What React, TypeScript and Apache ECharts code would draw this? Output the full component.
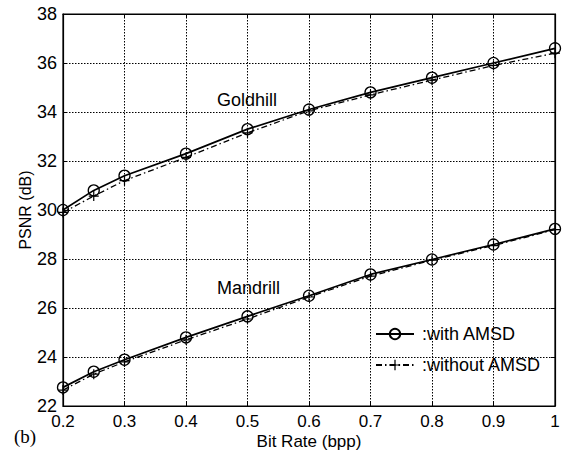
import React, { useEffect, useRef } from "react";
import * as echarts from "echarts";

const bitRates = [0.2, 0.25, 0.3, 0.4, 0.5, 0.6, 0.7, 0.8, 0.9, 1.0];
const goldhillWith = [30.0, 30.8, 31.4, 32.3, 33.3, 34.1, 34.8, 35.4, 36.0, 36.6];
const goldhillWithout = [29.9, 30.57, 31.2, 32.15, 33.15, 34.05, 34.7, 35.3, 35.9, 36.4];
const mandrillWith = [22.76, 23.4, 23.89, 24.8, 25.66, 26.5, 27.37, 27.98, 28.59, 29.23];
const mandrillWithout = [22.65, 23.3, 23.8, 24.7, 25.55, 26.45, 27.3, 27.95, 28.55, 29.2];
const seriesNames = ["with AMSD", "without AMSD"];
const xTitle = "Bit Rate (bpp)";
const yTitle = "PSNR (dB)";

const FONT = "'Liberation Sans', Arial, sans-serif";
const PLUS = "path://M4.4,0 H5.6 V4.4 H10 V5.6 H5.6 V10 H4.4 V5.6 H0 V4.4 H4.4 Z";

const pairs = (ys: number[]) => bitRates.map((x, i) => [x, ys[i]]);

export default function App() {
  const ref = useRef<HTMLDivElement>(null);
  useEffect(() => {
    if (!ref.current) return;
    const chart = echarts.init(ref.current, null, { renderer: "svg" });
    const withSeries = (data: number[][]) => ({
      type: "line",
      name: seriesNames[0],
      data,
      symbol: "circle",
      symbolSize: 11,
      showSymbol: true,
      lineStyle: { color: "#000", width: 1.7, type: "solid" },
      itemStyle: { color: "rgba(0,0,0,0)", borderColor: "#000", borderWidth: 1.3 },
      z: 3,
    });
    const withoutSeries = (data: number[][]) => ({
      type: "line",
      name: seriesNames[1],
      data,
      symbol: PLUS,
      symbolSize: 10,
      lineStyle: { color: "#000", width: 1.3, type: [6, 3, 1.5, 3] },
      itemStyle: { color: "#000", borderWidth: 0 },
      z: 2,
    });
    chart.setOption({
      animation: false,
      backgroundColor: "#fff",
      grid: { left: 63, right: 9, top: 14, bottom: 51, show: true, borderColor: "#000", borderWidth: 1.2, backgroundColor: "transparent" },
      legend: {
        orient: "vertical",
        left: 370,
        top: 319,
        itemWidth: 38,
        itemHeight: 13,
        itemGap: 11,
        data: seriesNames,
        formatter: (n: string) => ":" + n,
        textStyle: { color: "#000", fontSize: 18, fontFamily: FONT, padding: [0, 0, 0, 3], lineHeight: 20 },
      },
      xAxis: [
        {
          type: "value",
          min: 0.2,
          max: 1,
          interval: 0.1,
          name: xTitle,
          nameLocation: "middle",
          nameGap: 27,
          nameMoveOverlap: false,
          nameTextStyle: { color: "#000", fontSize: 17, fontFamily: FONT, verticalAlign: "top" },
          axisLine: { show: true, lineStyle: { color: "#000", width: 1.2 } },
          axisTick: { show: true, inside: true, length: 4, lineStyle: { color: "#000" } },
          axisLabel: { color: "#000", fontSize: 17, fontFamily: FONT, margin: 7, formatter: (v: number) => String(Math.round(v * 10) / 10) },
          splitLine: { show: true, lineStyle: { color: "#000", width: 1, type: [1.5, 1.5] } },
        },
        {
          type: "value",
          position: "top",
          min: 0.2,
          max: 1,
          interval: 0.1,
          axisLine: { show: true, lineStyle: { color: "#000", width: 1.2 } },
          axisTick: { show: true, inside: true, length: 4, lineStyle: { color: "#000" } },
          axisLabel: { show: false },
          splitLine: { show: false },
        },
      ],
      yAxis: [
        {
          type: "value",
          min: 22,
          max: 38,
          interval: 2,
          name: yTitle,
          nameLocation: "middle",
          nameGap: 30,
          nameMoveOverlap: false,
          nameTextStyle: { color: "#000", fontSize: 16, fontFamily: FONT, verticalAlign: "bottom" },
          axisLine: { show: true, lineStyle: { color: "#000", width: 1.2 } },
          axisTick: { show: true, inside: true, length: 4, lineStyle: { color: "#000" } },
          axisLabel: { color: "#000", fontSize: 18, fontFamily: FONT, margin: 6 },
          splitLine: { show: true, lineStyle: { color: "#000", width: 1, type: [1.5, 1.5] } },
        },
        {
          type: "value",
          position: "right",
          min: 22,
          max: 38,
          interval: 2,
          axisLine: { show: true, lineStyle: { color: "#000", width: 1.2 } },
          axisTick: { show: true, inside: true, length: 4, lineStyle: { color: "#000" } },
          axisLabel: { show: false },
          splitLine: { show: false },
        },
      ],
      series: [
        withSeries(pairs(goldhillWith)),
        withoutSeries(pairs(goldhillWithout)),
        withSeries(pairs(mandrillWith)),
        withoutSeries(pairs(mandrillWithout)),
      ],
      graphic: [
        { type: "text", left: 217, top: 91, style: { text: "Goldhill", fill: "#000", font: `18px ${FONT}` } },
        { type: "text", left: 217, top: 279, style: { text: "Mandrill", fill: "#000", font: `18px ${FONT}` } },
        { type: "text", left: 14, top: 427, style: { text: "(b)", fill: "#000", font: `19px 'Liberation Serif', 'Times New Roman', serif` } },
      ],
    });
    return () => chart.dispose();
  }, []);
  return <div ref={ref} style={{ position: "fixed", left: 0, top: 0, width: 564, height: 457 }} />;
}
